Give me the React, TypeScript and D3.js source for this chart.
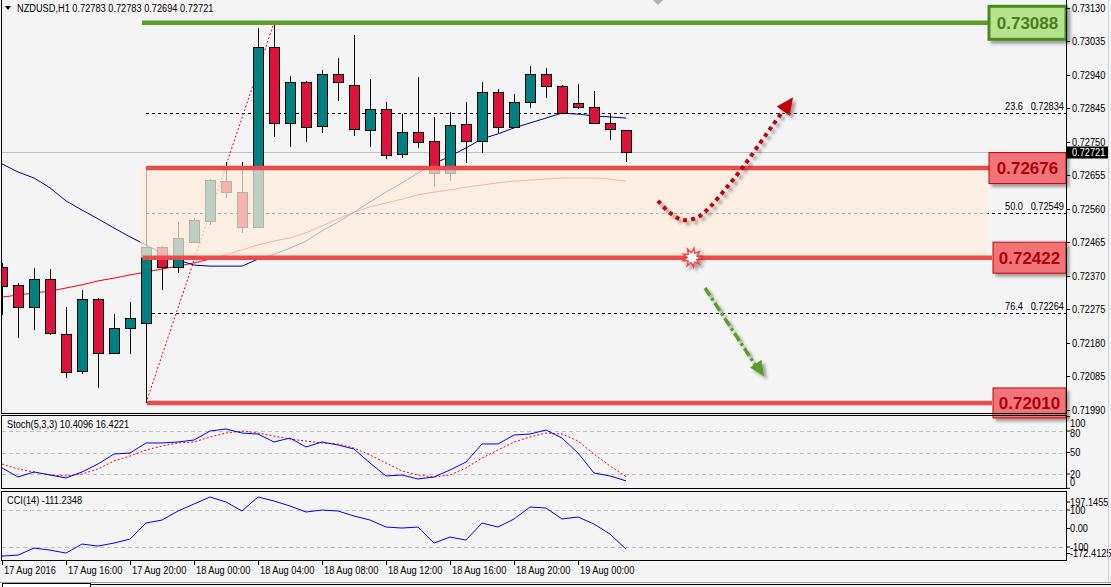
import React, { useEffect, useRef } from 'react';
import * as d3 from 'd3';

// NZDUSD H1, 17 Aug 12:00 .. 19 Aug 03:00
const opens = [0.72396, 0.72345, 0.72282, 0.72362, 0.72206, 0.72101, 0.72305, 0.72152, 0.72223, 0.72237,
  0.72452, 0.72396, 0.72466, 0.72526, 0.72639, 0.72608, 0.72509, 0.73019, 0.72804, 0.7292,
  0.72795, 0.72943, 0.72912, 0.72784, 0.72844, 0.72716, 0.72778, 0.72753, 0.72662, 0.72801,
  0.72753, 0.72892, 0.72793, 0.72863, 0.72943, 0.72909, 0.72861, 0.72849, 0.72804, 0.72783];
const highs = [0.72407, 0.7235, 0.72393, 0.7239, 0.72282, 0.7233, 0.72307, 0.72262, 0.72296, 0.7268,
  0.72455, 0.72523, 0.72534, 0.72645, 0.72693, 0.72693, 0.73073, 0.73088, 0.72937, 0.72923,
  0.72954, 0.72988, 0.73053, 0.72929, 0.72863, 0.72829, 0.72934, 0.72821, 0.72835, 0.72863,
  0.7292, 0.729, 0.72886, 0.72966, 0.7296, 0.72912, 0.72914, 0.72895, 0.72829, 0.72783];
const lows = [0.72259, 0.72194, 0.72217, 0.72203, 0.72081, 0.72092, 0.72052, 0.7215, 0.72149, 0.7201,
  0.7233, 0.72379, 0.72464, 0.72515, 0.72591, 0.72492, 0.72505, 0.72764, 0.72736, 0.7275,
  0.72776, 0.72866, 0.72767, 0.72736, 0.72702, 0.72705, 0.72733, 0.72622, 0.72639, 0.7269,
  0.72719, 0.72776, 0.7279, 0.72846, 0.72875, 0.7283, 0.72844, 0.72801, 0.72756, 0.72694];
const closes = [0.72342, 0.72282, 0.72362, 0.72208, 0.72098, 0.72305, 0.72152, 0.72223, 0.72251, 0.72452,
  0.72396, 0.72478, 0.72529, 0.72643, 0.72608, 0.72509, 0.73019, 0.72804, 0.7292, 0.72793,
  0.72943, 0.7292, 0.72787, 0.72844, 0.72713, 0.72778, 0.7275, 0.72662, 0.72798, 0.72753,
  0.72892, 0.72793, 0.72863, 0.72943, 0.72909, 0.72832, 0.72849, 0.72804, 0.72787, 0.72721];

const maFast = [0.72688, 0.72665, 0.72648, 0.7262, 0.72583, 0.72557, 0.72532, 0.72506, 0.72481, 0.72458,
  0.72435, 0.72415, 0.72401, 0.72398, 0.72398, 0.72398, 0.72418, 0.72432, 0.72449, 0.72469,
  0.72498, 0.72523, 0.72551, 0.7258, 0.72608, 0.72634, 0.72662, 0.72688, 0.7271, 0.72733,
  0.72759, 0.72773, 0.7279, 0.72804, 0.72818, 0.72832, 0.72829, 0.72824, 0.72821, 0.72818];
const maSlow = [0.7231, 0.72316, 0.72322, 0.72327, 0.72336, 0.72345, 0.72356, 0.72364, 0.72373, 0.72381,
  0.7239, 0.72398, 0.72407, 0.72418, 0.7243, 0.72444, 0.72458, 0.72469, 0.72478, 0.72492,
  0.72512, 0.72532, 0.72551, 0.72566, 0.72577, 0.72588, 0.726, 0.72608, 0.72614, 0.72622,
  0.72628, 0.72634, 0.72639, 0.72642, 0.72645, 0.72648, 0.72648, 0.72648, 0.72645, 0.72639];

const stochK = [28.4, 15.8, 22.8, 18.6, 14.4, 22.8, 34.0, 47.9, 49.3, 63.3, 63.3, 64.7, 67.4, 80.0, 82.8,
  77.2, 75.8, 64.7, 70.2, 57.7, 64.7, 60.5, 54.9, 35.3, 17.2, 18.6, 13.0, 15.8, 25.6, 36.7,
  61.9, 61.9, 74.4, 75.8, 81.4, 70.2, 49.3, 21.4, 17.2, 10.4096];
const stochD = [34.0, 27.0, 22.8, 18.6, 17.2, 20.0, 27.0, 38.1, 45.1, 53.5, 59.1, 63.3, 64.7, 71.6, 77.2,
  80.0, 77.2, 73.0, 68.8, 66.0, 63.3, 61.9, 56.3, 46.5, 35.3, 24.2, 18.6, 15.8, 18.6, 28.4,
  42.3, 53.5, 64.7, 71.6, 77.2, 75.8, 66.0, 47.9, 31.2, 16.4221];
const cci = [-148.6, -143.2, -105.4, -116.2, -132.4, -83.8, -94.6, -78.4, -56.8, 29.7, 45.9, 94.6, 132.4,
  170.2, 143.2, 94.6, 170.2, 148.6, 121.6, 89.2, 100.0, 94.6, 67.6, 45.9, 8.1, 2.7, 8.1, -78.4,
  -45.9, -62.2, 29.7, 8.1, 51.4, 116.2, 110.8, 51.4, 62.2, 24.3, -29.7, -111.2348];

const priceTicks = [0.7313, 0.73035, 0.7294, 0.72845, 0.7275, 0.72655, 0.7256, 0.72465, 0.7237, 0.72275,
  0.7218, 0.72085, 0.7199];
const timeTickIdx = [0, 4, 8, 12, 16, 20, 24, 28, 32, 36];
const timeLabels = ['17 Aug 2016', '17 Aug 16:00', '17 Aug 20:00', '18 Aug 00:00', '18 Aug 04:00',
  '18 Aug 08:00', '18 Aug 12:00', '18 Aug 16:00', '18 Aug 20:00', '19 Aug 00:00'];
const stochLevels = [80, 50, 20];
const stochLabels = [100, 80, 50, 20, 0];
const cciLevels = [100, -100];
const cciLabels = ['197.1455', '100', '0.00', '-100', '-172.4125'];
const cciLabelValues = [197.1455, 100, 0, -100, -172.4125];

const fibHigh = 0.73088;
const fibLow = 0.7201;
const fibRatios = [0.236, 0.5, 0.764];
const supportLevels = [0.72676, 0.72422, 0.7201];
const resistance = 0.73088;

// annotations in (bar index, price)
const upArrow = [[41.0, 0.72583], [41.75, 0.72549], [42.56, 0.72529], [43.5, 0.72537], [44.25, 0.72566],
  [45.31, 0.72622], [46.31, 0.72679], [47.38, 0.72747], [48.19, 0.72799], [49.0, 0.72849]];
const upTip = [49.44, 0.72877];
const downArrow = [[43.94, 0.72336], [47.3, 0.72102]];
const downTip = [47.63, 0.72086];
const burst = [43.13, 0.72422];

const FONT = "'Liberation Sans', Arial, sans-serif";
const SX = 0.84; // narrow the axis font like Tahoma

const App = () => {
  const ref = useRef(null);

  useEffect(() => {
    const svg = d3.select(ref.current);
    svg.selectAll('*').remove();

    // small narrow text, anchored at (tx, ty) and vertically centred
    const txt = (g, tx, ty, s, anchor = 'start', fill = '#000') => g.append('text')
      .attr('transform', `translate(${tx},${ty}) scale(${SX},1)`)
      .attr('dy', '0.35em').attr('text-anchor', anchor).attr('fill', fill)
      .style('font-family', FONT).style('font-size', '11px').text(s);

    const n = closes.length;
    const x = d3.scaleLinear().domain([0, n - 1]).range([2, 626]);
    const y = d3.scaleLinear().domain([0.7199, 0.7313]).range([410, 8]);
    const ys = d3.scaleLinear().domain([0, 100]).range([488.3, 416.7]);
    const yc = d3.scaleLinear().domain([-172.4125, 197.1455]).range([560.5, 492]);
    const axisX = 1066;

    const defs = svg.append('defs');
    const sh = defs.append('filter').attr('id', 'shadow').attr('x', '-20%').attr('y', '-20%')
      .attr('width', '150%').attr('height', '150%');
    sh.append('feDropShadow').attr('dx', 3).attr('dy', 3).attr('stdDeviation', 1.8)
      .attr('flood-color', '#000').attr('flood-opacity', 0.35);
    const clip = (id, x0, y0, x1, y1) => defs.append('clipPath').attr('id', id)
      .append('rect').attr('x', x0).attr('y', y0).attr('width', x1 - x0).attr('height', y1 - y0);
    clip('cMain', 2, 0, axisX, 413);
    clip('cStoch', 2, 416, axisX, 488);
    clip('cCci', 2, 492, axisX, 560);

    svg.append('rect').attr('width', 1111).attr('height', 587).attr('fill', '#f4f4f4');

    const main = svg.append('g').attr('clip-path', 'url(#cMain)');

    // bid line
    const bidY = Math.round(y(closes[n - 1])) + 0.5;
    main.append('line').attr('x1', 2).attr('x2', axisX).attr('y1', bidY).attr('y2', bidY)
      .attr('stroke', '#c0c0c0');

    // fibonacci
    const fibPrices = fibRatios.map((r) => fibHigh - r * (fibHigh - fibLow));
    fibPrices.forEach((p, k) => {
      const yy = Math.round(y(p)) + 0.5;
      main.append('line').attr('x1', x(9)).attr('x2', axisX).attr('y1', yy).attr('y2', yy)
        .attr('stroke', '#000').attr('stroke-dasharray', '3,3');
      txt(main, 1005, yy - 7, (fibRatios[k] * 100).toFixed(1));
      txt(main, 1064, yy - 7, p.toFixed(5), 'end');
    });
    main.append('line').attr('x1', x(9)).attr('y1', y(fibLow)).attr('x2', x(17)).attr('y2', y(fibHigh))
      .attr('stroke', '#ff0000').attr('stroke-dasharray', '2,2');

    // moving averages
    const line = d3.line().x((d, i) => x(i)).y((d) => y(d));
    main.append('path').attr('d', line(maSlow)).attr('fill', 'none').attr('stroke', '#ff0000');
    main.append('path').attr('d', line(maFast)).attr('fill', 'none').attr('stroke', '#00008b');

    // candles
    const candles = main.selectAll('g.candle').data(d3.range(n)).enter().append('g').attr('class', 'candle');
    candles.append('line')
      .attr('x1', (i) => x(i) + 0.5).attr('x2', (i) => x(i) + 0.5)
      .attr('y1', (i) => Math.round(y(highs[i]))).attr('y2', (i) => Math.round(y(lows[i])))
      .attr('stroke', '#000');
    candles.append('rect')
      .attr('x', (i) => x(i) - 4.5).attr('width', 10)
      .attr('y', (i) => Math.round(y(Math.max(opens[i], closes[i]))) + 0.5)
      .attr('height', (i) => Math.max(1, Math.round(Math.abs(y(opens[i]) - y(closes[i])))))
      .attr('fill', (i) => (closes[i] >= opens[i] ? '#008080' : '#dc143c'))
      .attr('stroke', '#000');

    // zone
    const zTop = y(supportLevels[0]);
    const zBot = y(supportLevels[1]);
    main.append('rect').attr('x', x(8.63)).attr('width', x(61.6) - x(8.63)).attr('y', zTop)
      .attr('height', zBot - zTop).attr('fill', 'rgb(254,236,220)').attr('opacity', 0.74);

    // level lines
    main.append('line').attr('x1', x(8.75)).attr('x2', 988).attr('y1', y(resistance)).attr('y2', y(resistance))
      .attr('stroke', '#5ea127').attr('stroke-width', 4.5);
    const starts = [9, 8.8, 9.06];
    supportLevels.forEach((p, k) => {
      main.append('line').attr('x1', x(starts[k])).attr('x2', 992).attr('y1', y(p)).attr('y2', y(p))
        .attr('stroke', '#eb4b4b').attr('stroke-width', 4.5);
    });

    // arrows
    const px = (d) => [x(d[0]), y(d[1])];
    const head = (g, from, tip, len, hw, color) => {
      const [x0, y0] = px(from);
      const [x1, y1] = px(tip);
      const a = Math.atan2(y1 - y0, x1 - x0);
      const bx = x1 - len * Math.cos(a);
      const by = y1 - len * Math.sin(a);
      const nx = -Math.sin(a) * hw;
      const ny = Math.cos(a) * hw;
      g.append('path').attr('d', `M${x1},${y1}L${bx + nx},${by + ny}L${bx - nx},${by - ny}Z`).attr('fill', color);
    };
    const ga = svg.append('g').attr('filter', 'url(#shadow)');
    ga.append('path').attr('d', d3.line().curve(d3.curveCatmullRom)(upArrow.map(px)))
      .attr('fill', 'none').attr('stroke', '#c8000a').attr('stroke-width', 4)
      .attr('stroke-dasharray', '4,4');
    head(ga, upArrow[upArrow.length - 1], upTip, 17, 8, '#c8000a');
    const gb = svg.append('g').attr('filter', 'url(#shadow)');
    gb.append('path').attr('d', d3.line()(downArrow.map(px)))
      .attr('fill', 'none').attr('stroke', '#5a9e2a').attr('stroke-width', 3.5)
      .attr('stroke-dasharray', '9,3,3,3');
    head(gb, downArrow[0], downTip, 15, 7, '#5a9e2a');

    // starburst
    const [bxp, byp] = px(burst);
    const star = (r1, r2, k) => d3.range(k * 2).map((j) => {
      const a = (j * Math.PI) / k - Math.PI / 2 + 0.2;
      const r = j % 2 ? r2 : r1;
      return [bxp + r * Math.cos(a), byp + r * Math.sin(a)];
    });
    const gs = svg.append('g').attr('filter', 'url(#shadow)');
    gs.append('path').attr('d', d3.line().curve(d3.curveLinearClosed)(star(12, 6, 9))).attr('fill', '#f04646');
    gs.append('path').attr('d', d3.line().curve(d3.curveLinearClosed)(star(7, 4, 9))).attr('fill', '#fff');

    // level label boxes
    const box = (p, x0, h, fill, stroke, sw, color) => {
      const yy = y(p);
      const g = svg.append('g');
      g.append('rect').attr('x', x0).attr('y', yy - h / 2).attr('width', axisX - x0).attr('height', h)
        .attr('fill', fill).attr('stroke', stroke).attr('stroke-width', sw).attr('filter', 'url(#shadow)');
      g.append('text').attr('x', (x0 + axisX) / 2).attr('y', yy).attr('dy', '0.36em')
        .attr('text-anchor', 'middle').text(p.toFixed(5)).attr('fill', color)
        .style('font-family', FONT).style('font-weight', 'bold').style('font-size', '17px');
    };
    box(resistance, 989, 33, '#b6e38d', '#4a8a1e', 3, '#4a7d22');
    box(supportLevels[0], 989, 31, '#ef7479', '#cc0000', 1, '#b0000a');
    box(supportLevels[1], 993, 31, '#ef7479', '#cc0000', 1, '#b0000a');
    box(supportLevels[2], 993, 30, '#ef7479', '#cc0000', 1, '#b0000a');

    // title
    svg.append('path').attr('d', 'M5,6L11,6L8,10Z').attr('fill', '#000');
    txt(svg, 17, 8, `NZDUSD,H1  ${opens[n - 1].toFixed(5)} ${highs[n - 1].toFixed(5)} ${lows[n - 1].toFixed(5)} ${closes[n - 1].toFixed(5)}`);
    svg.append('path').attr('d', 'M653,0L663,0L658,5Z').attr('fill', '#b0b0b0');

    // price axis
    priceTicks.forEach((p) => {
      const yy = Math.round(y(p)) + 0.5;
      svg.append('line').attr('x1', axisX).attr('x2', axisX + 4).attr('y1', yy).attr('y2', yy).attr('stroke', '#000');
      txt(svg, 1072, yy, p.toFixed(5));
    });
    svg.append('rect').attr('x', axisX + 1).attr('y', bidY - 6).attr('width', 41).attr('height', 12).attr('fill', '#000');
    txt(svg, 1072, bidY, closes[n - 1].toFixed(5), 'start', '#fff');

    // stochastic panel
    const st = svg.append('g').attr('clip-path', 'url(#cStoch)');
    stochLevels.forEach((v) => {
      st.append('line').attr('x1', 2).attr('x2', axisX).attr('y1', Math.round(ys(v)) + 0.5).attr('y2', Math.round(ys(v)) + 0.5)
        .attr('stroke', '#c0c0c0').attr('stroke-dasharray', '4,3');
    });
    const sLine = d3.line().x((d, i) => x(i)).y((d) => ys(d));
    st.append('path').attr('d', sLine(stochD)).attr('fill', 'none').attr('stroke', '#ff0000').attr('stroke-dasharray', '2,2');
    st.append('path').attr('d', sLine(stochK)).attr('fill', 'none').attr('stroke', '#0000ff');
    const stOff = [6, 2, 0, 0, -6];
    stochLabels.forEach((v, k) => {
      svg.append('line').attr('x1', axisX).attr('x2', axisX + 4).attr('y1', ys(v)).attr('y2', ys(v)).attr('stroke', '#000');
      txt(svg, 1070, ys(v) + stOff[k], String(v));
    });
    txt(svg, 7, 424, `Stoch(5,3,3) ${stochK[n - 1].toFixed(4)} ${stochD[n - 1].toFixed(4)}`);

    // cci panel
    const cc = svg.append('g').attr('clip-path', 'url(#cCci)');
    cciLevels.forEach((v) => {
      cc.append('line').attr('x1', 2).attr('x2', axisX).attr('y1', Math.round(yc(v)) + 0.5).attr('y2', Math.round(yc(v)) + 0.5)
        .attr('stroke', '#c0c0c0').attr('stroke-dasharray', '4,3');
    });
    cc.append('path').attr('d', d3.line().x((d, i) => x(i)).y((d) => yc(d))(cci))
      .attr('fill', 'none').attr('stroke', '#0000ff');
    const ccOff = [10, 0, 0, 0, -7];
    cciLabelValues.forEach((v, k) => {
      svg.append('line').attr('x1', axisX).attr('x2', axisX + 4).attr('y1', yc(v) + ccOff[k]).attr('y2', yc(v) + ccOff[k]).attr('stroke', '#000');
      txt(svg, 1070, yc(v) + ccOff[k], cciLabels[k]);
    });
    txt(svg, 7, 500, `CCI(14) ${cci[n - 1].toFixed(4)}`);

    // frames
    const frame = (y0, y1) => svg.append('rect').attr('x', 1.5).attr('y', y0 + 0.5).attr('width', axisX - 1)
      .attr('height', y1 - y0).attr('fill', 'none').attr('stroke', '#000');
    frame(-1, 413);
    frame(415, 488);
    frame(491, 560);

    // time axis
    timeTickIdx.forEach((i, k) => {
      svg.append('line').attr('x1', x(i) + 0.5).attr('x2', x(i) + 0.5).attr('y1', 561).attr('y2', 565).attr('stroke', '#000');
      txt(svg, x(i) + 2, 570, timeLabels[k]);
    });

    // bottom tabs and right edge
    svg.append('line').attr('x1', 0).attr('x2', 1111).attr('y1', 582.5).attr('y2', 582.5).attr('stroke', '#a0a0a0');
    svg.append('rect').attr('x', 2.5).attr('y', 583.5).attr('width', 88).attr('height', 5)
      .attr('fill', '#fff').attr('stroke', '#000');
    svg.append('line').attr('x1', 90).attr('x2', 1111).attr('y1', 584.5).attr('y2', 584.5).attr('stroke', '#000');
    svg.append('line').attr('x1', 1108.5).attr('x2', 1108.5).attr('y1', 0).attr('y2', 582).attr('stroke', '#d0d0d0');
  }, []);

  return (
    <svg ref={ref} width={1111} height={587} style={{ position: 'absolute', left: 0, top: 0, display: 'block' }} />
  );
};

export default App;
